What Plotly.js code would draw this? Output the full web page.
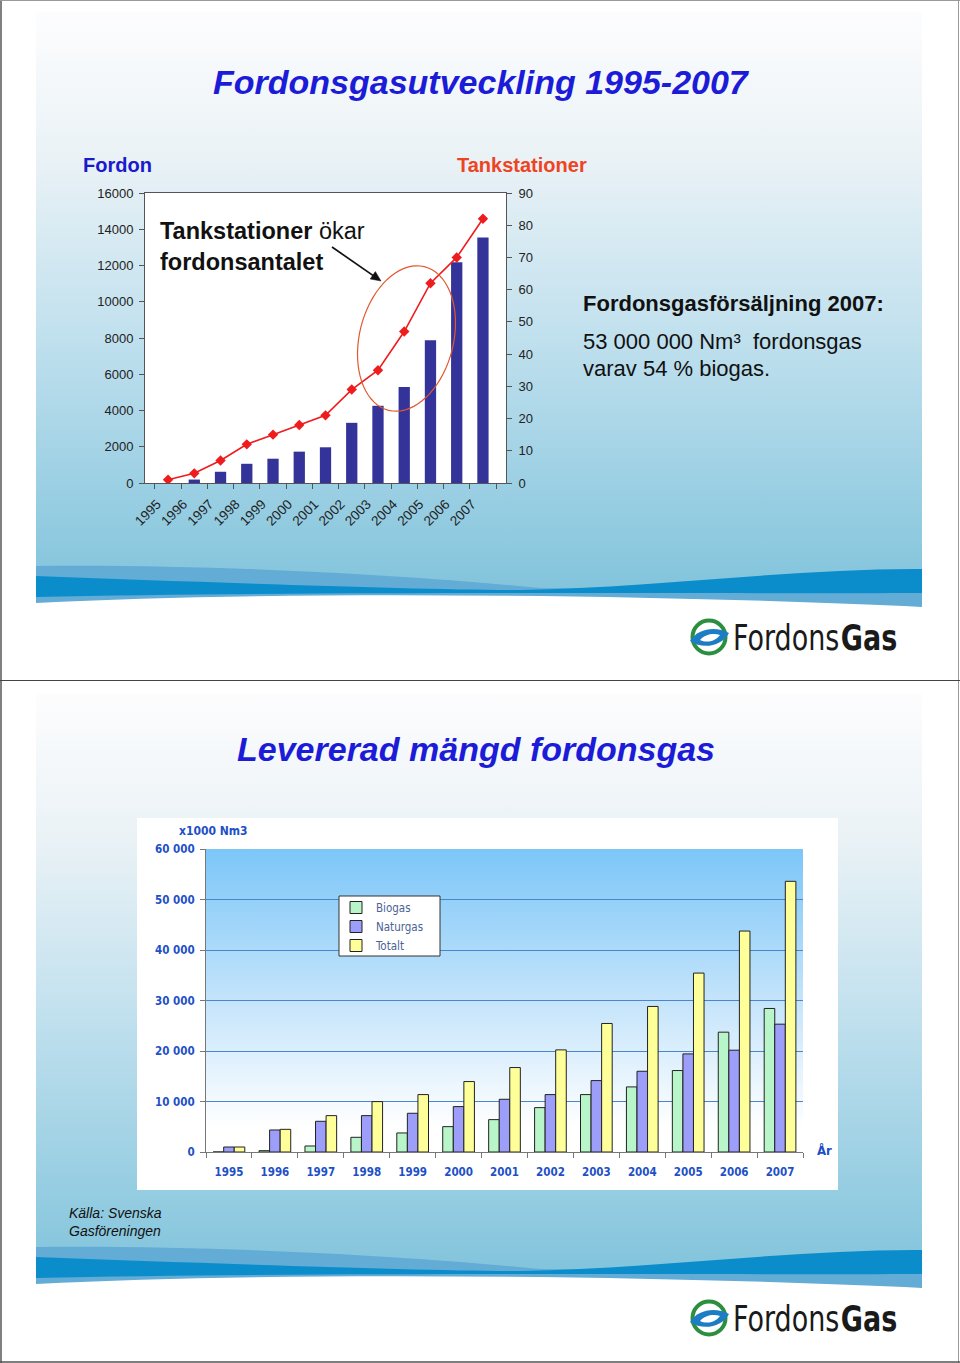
<!DOCTYPE html>
<html>
<head>
<meta charset="utf-8">
<script src="https://cdn.plot.ly/plotly-3.0.1.min.js"></script>
<style>
  html, body { margin:0; padding:0; background:#ffffff; }
  #wrap { position:relative; width:960px; height:1363px; overflow:hidden; }
  #bg { position:absolute; left:0; top:0; z-index:0; }
  #chart { position:absolute; left:0; top:0; width:960px; height:1363px; z-index:1; }
  .logotext { font-family: 'DejaVu Sans Condensed', 'Liberation Sans', sans-serif; font-size: 30px; fill: #1a1a1a; }
  .logobold { font-weight: bold; }
</style>
</head>
<body>
<div id="wrap">
<svg id="bg" width="960" height="1363" xmlns="http://www.w3.org/2000/svg">
  <defs>
    <linearGradient id="panel" x1="0" y1="0" x2="0" y2="1">
      <stop offset="0" stop-color="#fdfdfe"/>
      <stop offset="0.25" stop-color="#eaf2f6"/>
      <stop offset="0.55" stop-color="#c2e1ee"/>
      <stop offset="1" stop-color="#82c4dc"/>
    </linearGradient>
    <linearGradient id="plot2" x1="0" y1="0" x2="0" y2="1">
      <stop offset="0" stop-color="#7cc6f8"/>
      <stop offset="0.5" stop-color="#c4e4fb"/>
      <stop offset="0.92" stop-color="#ffffff"/>
      <stop offset="1" stop-color="#ffffff"/>
    </linearGradient>
    <g id="waves">
      <path d="M36,566 C200,564 400,574 540,588 L922,590 L922,607 C700,596 300,589 36,603 Z" fill="#62acd6"/>
      <path d="M36,576 C200,582 420,590 520,590 C650,588 800,568 922,569 L922,593 C700,594 300,591 36,597 Z" fill="#0b8dcc"/>
    </g>
    <g id="logoicon">
      <circle cx="709" cy="637" r="16.5" fill="none" stroke="#2b8f3f" stroke-width="4"/>
      <path d="M690,641 C698,628 716,626 729,633 C722,646 703,650 690,641 Z" fill="#1d7dc4"/>
      <path d="M700,640 C705,634 714,633 720,635 C715,642 706,643 700,640 Z" fill="#ffffff"/>
    </g>
  </defs>
  <!-- slide 1 -->
  <rect x="36" y="12" width="886" height="578" fill="url(#panel)"/>
  <use href="#waves"/>
  <use href="#logoicon"/>
  <g transform="translate(733,650) scale(1,1.2)">
    <text class="logotext lf" x="0" y="0">Fordons</text>
    <text class="logotext logobold lg" x="106" y="0">Gas</text>
  </g>
  <rect x="145" y="193" width="361" height="290" fill="#ffffff"/>
  <!-- slide 2 -->
  <rect x="36" y="693" width="886" height="578" fill="url(#panel)"/>
  <use href="#waves" transform="translate(0,681)"/>
  <use href="#logoicon" transform="translate(0,681)"/>
  <g transform="translate(733,1331) scale(1,1.2)">
    <text class="logotext lf" x="0" y="0">Fordons</text>
    <text class="logotext logobold lg" x="106" y="0">Gas</text>
  </g>
  <rect x="137" y="818" width="701" height="372" fill="#ffffff"/>
  <rect x="206" y="849" width="597" height="303" fill="url(#plot2)"/>
  <!-- frame -->
  <line x1="1" y1="0" x2="1" y2="1363" stroke="#808080" stroke-width="2"/>
  <line x1="0" y1="0.5" x2="960" y2="0.5" stroke="#9a9a9a" stroke-width="1"/>
  <line x1="958.5" y1="0" x2="958.5" y2="1363" stroke="#9a9a9a" stroke-width="1"/>
  <line x1="0" y1="680.5" x2="960" y2="680.5" stroke="#444" stroke-width="1.2"/>
  <line x1="0" y1="1362" x2="960" y2="1362" stroke="#555" stroke-width="1.5"/>
</svg>
<div id="chart"></div>
</div>
<script>
// place bold "Gas" right after the measured "Fordons"
(function () {
  const fs = document.querySelectorAll('#bg .lf'), gs = document.querySelectorAll('#bg .lg');
  fs.forEach((f, i) => { gs[i].setAttribute('x', (f.getComputedTextLength() + 1.5).toFixed(1)); });
})();

// ---------- data ----------
const years = ['1995','1996','1997','1998','1999','2000','2001','2002','2003','2004','2005','2006','2007'];
// Chart 1: number of gas vehicles (left axis) and filling stations (right axis)
const fordon = [0, 190, 620, 1060, 1340, 1730, 1970, 3320, 4260, 5290, 7880, 12180, 13540];
const tankstationer = [1, 3, 7, 12, 15, 18, 21, 29, 35, 47, 62, 70, 82];
// Chart 2: delivered vehicle gas, x1000 Nm3
const biogas   = [0, 260, 1190, 2910, 3770, 5020, 6410, 8790, 11370, 12890, 16130, 23730, 28420];
const naturgas = [990, 4360, 6080, 7200, 7670, 8990, 10440, 11370, 14140, 15990, 19430, 20160, 25310];
const totalt   = [990, 4490, 7200, 9980, 11370, 13950, 16720, 20220, 25450, 28820, 35430, 43750, 53600];
const seriesNames = ['Biogas', 'Naturgas', 'Totalt'];

// ---------- helpers ----------
const W = 960, H = 1363;
const px = v => v / W;
const py = v => 1 - v / H;
const SANS = "'Liberation Sans', Arial, sans-serif";
const NARROW = "'Liberation Sans Narrow', 'Arial Narrow', 'DejaVu Sans Condensed', sans-serif";
const BLUE = '#1c1cd8';
const AX2 = '#1d50c8';

// rotated ellipse path (decoration) in paper coords
function ellipsePath(cx, cy, a, b, deg) {
  const th = deg * Math.PI / 180, pts = [];
  for (let i = 0; i <= 72; i++) {
    const t = i / 72 * 2 * Math.PI;
    const x = a * Math.cos(t), y = b * Math.sin(t);
    const xr = cx + x * Math.cos(th) - y * Math.sin(th);
    const yr = cy + x * Math.sin(th) + y * Math.cos(th);
    pts.push(px(xr).toFixed(5) + ',' + py(yr).toFixed(5));
  }
  return 'M' + pts.join('L') + 'Z';
}
// arrow (decoration): line + head, pixel inputs -> paper path
function arrowShapes(x0, y0, x1, y1, head, half, color, width) {
  const dx = x1 - x0, dy = y1 - y0, L = Math.hypot(dx, dy);
  const ux = dx / L, uy = dy / L, bx = x1 - head * ux, by = y1 - head * uy;
  const p = (x, y) => px(x).toFixed(5) + ',' + py(y).toFixed(5);
  return [
    { type: 'line', xref: 'paper', yref: 'paper', x0: px(x0), y0: py(y0), x1: px(bx + ux), y1: py(by + uy),
      line: { color: color, width: width } },
    { type: 'path', xref: 'paper', yref: 'paper',
      path: 'M' + p(x1, y1) + 'L' + p(bx - half * uy, by + half * ux) + 'L' + p(bx + half * uy, by - half * ux) + 'Z',
      fillcolor: color, line: { color: color, width: 0.5 } }
  ];
}

const traces = [
  { type: 'bar', x: years, y: fordon, xaxis: 'x', yaxis: 'y', width: 0.43,
    marker: { color: '#333399' }, showlegend: false, hoverinfo: 'skip' },
  { type: 'scatter', mode: 'lines+markers', x: years, y: tankstationer, xaxis: 'x', yaxis: 'y2',
    line: { color: '#ee1c1c', width: 1.6 }, marker: { symbol: 'diamond', size: 8, color: '#ee1c1c' },
    showlegend: false, hoverinfo: 'skip' },
  { type: 'bar', name: seriesNames[0], x: years, y: biogas, xaxis: 'x3', yaxis: 'y3',
    marker: { color: '#b8f6c9', line: { color: '#222', width: 1 } } },
  { type: 'bar', name: seriesNames[1], x: years, y: naturgas, xaxis: 'x3', yaxis: 'y3',
    marker: { color: '#9d9dfa', line: { color: '#222', width: 1 } } },
  { type: 'bar', name: seriesNames[2], x: years, y: totalt, xaxis: 'x3', yaxis: 'y3',
    marker: { color: '#ffff99', line: { color: '#222', width: 1 } } }
];

const layout = {
  width: W, height: H,
  margin: { l: 0, r: 0, t: 0, b: 0 },
  paper_bgcolor: 'rgba(0,0,0,0)',
  plot_bgcolor: 'rgba(0,0,0,0)',
  separators: '. ',
  barmode: 'group', bargap: 0.31, bargroupgap: 0,
  font: { family: SANS, color: '#222' },
  xaxis: {
    domain: [px(145), px(506)], anchor: 'y', type: 'category',
    tickangle: -45, ticks: 'outside', tickson: 'boundaries', ticklen: 5, tickcolor: '#555',
    showline: true, linecolor: '#555', linewidth: 1, mirror: true,
    ticklabelshift: -11, ticklabelstandoff: 7,
    showgrid: false, tickfont: { family: SANS, size: 13.5, color: '#222' }
  },
  yaxis: {
    domain: [py(483), py(193)], anchor: 'x', range: [0, 16000], dtick: 2000, tickformat: 'd',
    ticks: 'outside', ticklen: 5, tickcolor: '#555', showline: true, linecolor: '#555',
    showgrid: false, zeroline: false, ticklabelstandoff: 3,
    tickfont: { family: SANS, size: 13, color: '#222' }
  },
  yaxis2: {
    overlaying: 'y', side: 'right', anchor: 'x', range: [0, 90], dtick: 10,
    ticks: 'outside', ticklen: 5, tickcolor: '#555', showline: true, linecolor: '#555',
    showgrid: false, zeroline: false, ticklabelstandoff: 4,
    tickfont: { family: SANS, size: 13, color: '#222' }
  },
  xaxis3: {
    domain: [px(206), px(803)], anchor: 'y3', type: 'category',
    ticks: 'outside', tickson: 'boundaries', ticklen: 5, tickcolor: '#777',
    showline: true, linecolor: '#777', showgrid: false, ticklabelstandoff: 9,
    tickfont: { family: NARROW, size: 11.5, color: AX2, weight: 'bold' }
  },
  yaxis3: {
    domain: [py(1152), py(849)], anchor: 'x3', range: [0, 60000], dtick: 10000, tickformat: ',d',
    ticks: 'outside', ticklen: 5, tickcolor: '#777', showline: true, linecolor: '#777',
    showgrid: true, gridcolor: '#4a86cc', gridwidth: 1, zeroline: false, ticklabelstandoff: 3,
    tickfont: { family: NARROW, size: 11.5, color: AX2, weight: 'bold' }
  },
  showlegend: true,
  legend: {
    x: px(336), y: py(893), xanchor: 'left', yanchor: 'top',
    bgcolor: 'rgba(0,0,0,0)', borderwidth: 0, traceorder: 'normal',
    font: { family: NARROW, size: 11.5, color: '#4a6296' }
  },
  shapes: [
    { type: 'path', xref: 'paper', yref: 'paper', path: ellipsePath(406.5, 338.5, 47, 74, 14),
      line: { color: '#e2582e', width: 1.2 }, fillcolor: 'rgba(0,0,0,0)' },
    { type: 'rect', xref: 'paper', yref: 'paper', x0: px(339), x1: px(440), y0: py(896), y1: py(956),
      fillcolor: '#ffffff', line: { color: '#333', width: 1 }, layer: 'above' }
  ].concat(arrowShapes(332, 247, 381, 281, 10, 4.5, '#111', 1.7)),
  annotations: [
    { xref: 'paper', yref: 'paper', x: px(481), y: py(82), xanchor: 'center', yanchor: 'middle',
      text: 'Fordonsgasutveckling 1995-2007', showarrow: false,
      font: { family: SANS, size: 34, color: BLUE, weight: 'bold', style: 'italic' } },
    { xref: 'paper', yref: 'paper', x: px(81), y: py(165), xanchor: 'left', yanchor: 'middle',
      text: 'Fordon', showarrow: false, font: { family: SANS, size: 20, color: '#1a1acc', weight: 'bold' } },
    { xref: 'paper', yref: 'paper', x: px(589), y: py(165), xanchor: 'right', yanchor: 'middle',
      text: 'Tankstationer', showarrow: false, font: { family: SANS, size: 20, color: '#ee4422', weight: 'bold' } },
    { xref: 'paper', yref: 'paper', x: px(158), y: py(246), xanchor: 'left', yanchor: 'middle', align: 'left',
      text: '<b>Tankstationer</b> ökar<br><b>fordonsantalet</b>', showarrow: false,
      font: { family: SANS, size: 23.5, color: '#111' } },
    { xref: 'paper', yref: 'paper', x: px(581), y: py(303), xanchor: 'left', yanchor: 'middle',
      text: 'Fordonsgasförsäljning 2007:', showarrow: false,
      font: { family: SANS, size: 22, color: '#111', weight: 'bold' } },
    { xref: 'paper', yref: 'paper', x: px(581), y: py(342), xanchor: 'left', yanchor: 'middle', align: 'left',
      text: '53 000 000 Nm³  fordonsgas', showarrow: false,
      font: { family: SANS, size: 22, color: '#111' } },
    { xref: 'paper', yref: 'paper', x: px(581), y: py(369), xanchor: 'left', yanchor: 'middle', align: 'left',
      text: 'varav 54 % biogas.', showarrow: false,
      font: { family: SANS, size: 22, color: '#111' } },

    { xref: 'paper', yref: 'paper', x: px(476), y: py(749), xanchor: 'center', yanchor: 'middle',
      text: 'Levererad mängd fordonsgas', showarrow: false,
      font: { family: SANS, size: 34, color: BLUE, weight: 'bold', style: 'italic' } },
    { xref: 'paper', yref: 'paper', x: px(213), y: py(831), xanchor: 'center', yanchor: 'middle',
      text: 'x1000 Nm3', showarrow: false, font: { family: NARROW, size: 12, color: AX2, weight: 'bold' } },
    { xref: 'paper', yref: 'paper', x: px(824), y: py(1150), xanchor: 'center', yanchor: 'middle',
      text: 'År', showarrow: false, font: { family: NARROW, size: 13, color: AX2, weight: 'bold' } },
    { xref: 'paper', yref: 'paper', x: px(67), y: py(1222), xanchor: 'left', yanchor: 'middle', align: 'left',
      text: 'Källa: Svenska<br>Gasföreningen', showarrow: false,
      font: { family: SANS, size: 14, color: '#111', style: 'italic' } }
  ]
};

Plotly.newPlot('chart', traces, layout, { displayModeBar: false, staticPlot: true });
</script>
</body>
</html>
